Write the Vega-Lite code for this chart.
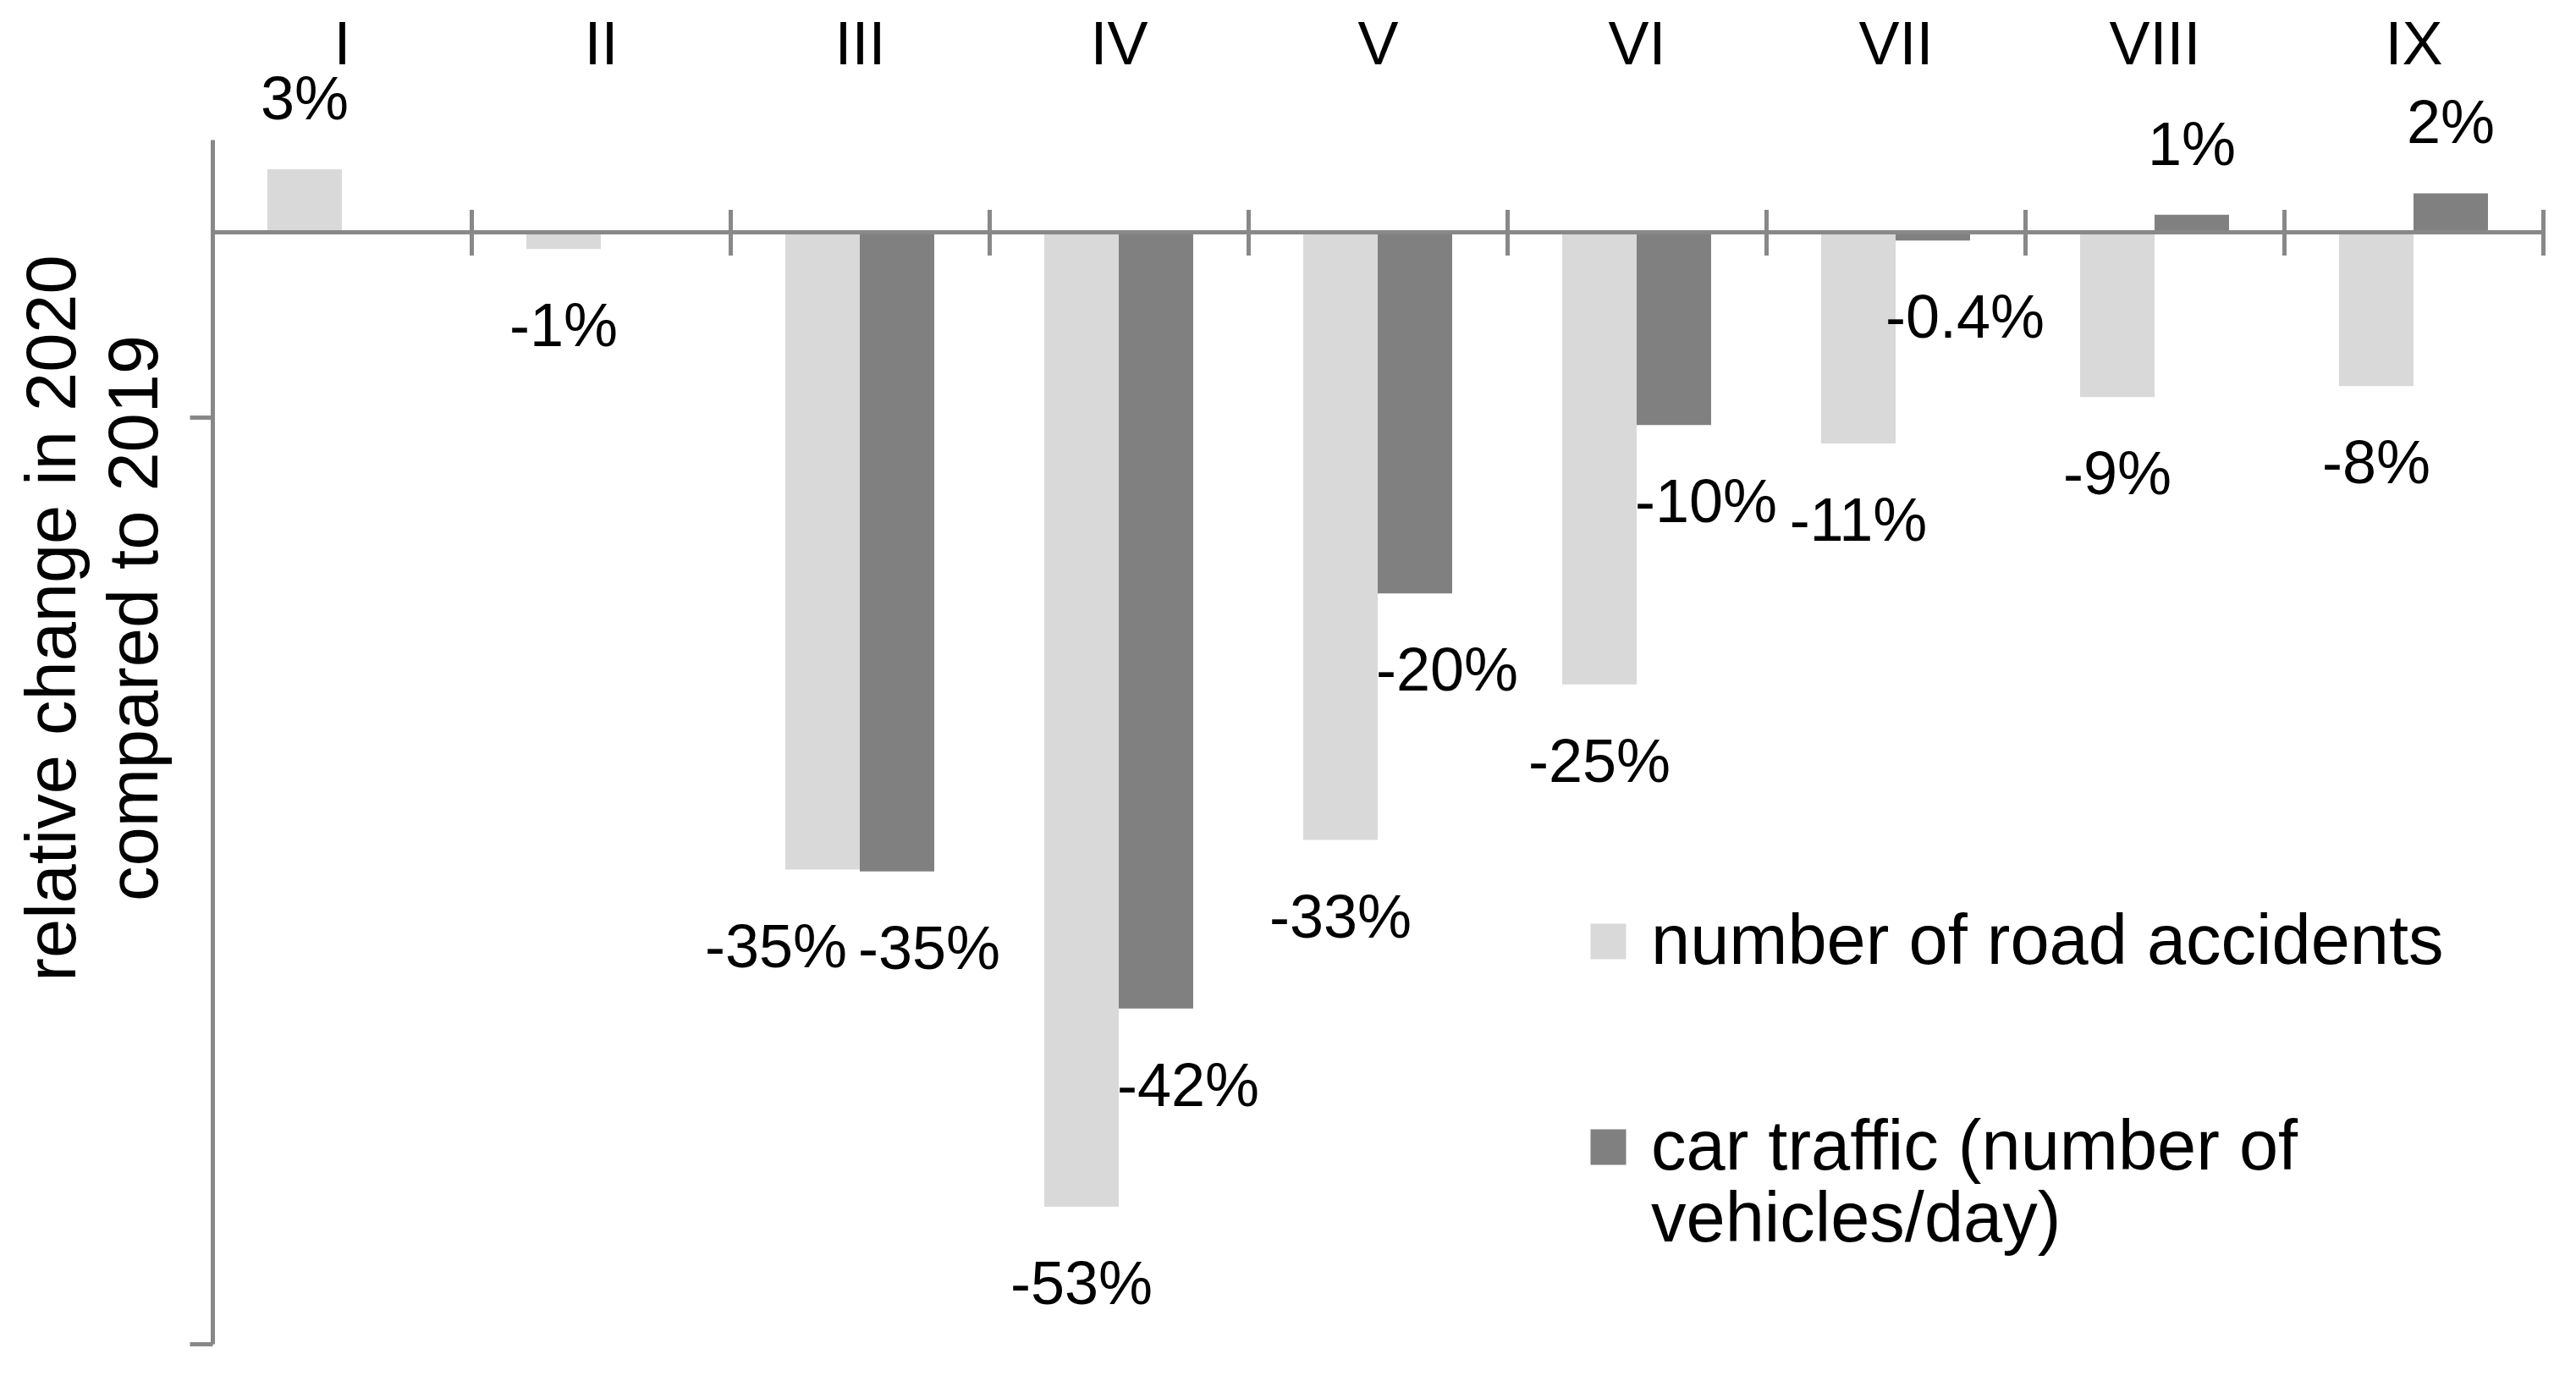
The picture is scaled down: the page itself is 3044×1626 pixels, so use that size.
{
  "$schema": "https://vega.github.io/schema/vega-lite/v6.json",
  "autosize": "none",
  "width": 2754,
  "height": 1423,
  "padding": {"left": 251, "top": 165, "right": 39, "bottom": 38},
  "background": "white",
  "config": {
    "font": "Liberation Sans",
    "view": {"stroke": null}
  },
  "data": {
    "values": [
      {"month": "I", "series": "number of road accidents", "value": 3.4, "label": "3%"},
      {"month": "II", "series": "number of road accidents", "value": -0.9, "label": "-1%"},
      {"month": "III", "series": "number of road accidents", "value": -34.4, "label": "-35%"},
      {"month": "III", "series": "car traffic (number of vehicles/day)", "value": -34.5, "label": "-35%"},
      {"month": "IV", "series": "number of road accidents", "value": -52.6, "label": "-53%"},
      {"month": "IV", "series": "car traffic (number of vehicles/day)", "value": -41.9, "label": "-42%"},
      {"month": "V", "series": "number of road accidents", "value": -32.8, "label": "-33%"},
      {"month": "V", "series": "car traffic (number of vehicles/day)", "value": -19.5, "label": "-20%"},
      {"month": "VI", "series": "number of road accidents", "value": -24.4, "label": "-25%"},
      {"month": "VI", "series": "car traffic (number of vehicles/day)", "value": -10.4, "label": "-10%"},
      {"month": "VII", "series": "number of road accidents", "value": -11.4, "label": "-11%"},
      {"month": "VII", "series": "car traffic (number of vehicles/day)", "value": -0.45, "label": "-0.4%"},
      {"month": "VIII", "series": "number of road accidents", "value": -8.9, "label": "-9%"},
      {"month": "VIII", "series": "car traffic (number of vehicles/day)", "value": 0.95, "label": "1%"},
      {"month": "IX", "series": "number of road accidents", "value": -8.3, "label": "-8%"},
      {"month": "IX", "series": "car traffic (number of vehicles/day)", "value": 2.1, "label": "2%"}
    ]
  },
  "encoding": {
    "x": {
      "field": "month",
      "type": "nominal",
      "sort": ["I", "II", "III", "IV", "V", "VI", "VII", "VIII", "IX"],
      "scale": {"paddingInner": 0, "paddingOuter": 0},
      "axis": {
        "orient": "top",
        "title": null,
        "domain": false,
        "offset": -136.46,
        "ticks": true,
        "tickBand": "extent",
        "tickSize": 54,
        "tickWidth": 5,
        "tickColor": "#888888",
        "labelAngle": 0,
        "labelFontSize": 72,
        "labelColor": "black",
        "labelBaseline": "alphabetic",
        "labelPadding": 172
      }
    },
    "xOffset": {
      "field": "series",
      "type": "nominal",
      "sort": ["number of road accidents", "car traffic (number of vehicles/day)"],
      "scale": {"paddingInner": 0, "paddingOuter": 0.739}
    },
    "y": {
      "field": "value",
      "type": "quantitative",
      "scale": {"domain": [-60, 5], "nice": false, "zero": false},
      "axis": {
        "values": [-10, -60],
        "labels": false,
        "grid": false,
        "domainColor": "#888888",
        "domainWidth": 5,
        "tickColor": "#888888",
        "tickWidth": 5,
        "tickSize": 27,
        "title": ["relative change in 2020", "compared to 2019"],
        "titleFontSize": 83,
        "titleFontWeight": "normal",
        "titleColor": "black",
        "titleAngle": -90,
        "titleAlign": "center",
        "titleBaseline": "alphabetic",
        "titleLineHeight": 97,
        "titleX": -163,
        "titleY": 565
      }
    }
  },
  "layer": [
    {
      "mark": {"type": "bar", "orient": "vertical"},
      "encoding": {
        "y2": {"datum": 0},
        "color": {
          "field": "series",
          "type": "nominal",
          "sort": ["number of road accidents", "car traffic (number of vehicles/day)"],
          "scale": {
            "domain": ["number of road accidents", "car traffic (number of vehicles/day)"],
            "range": ["#d9d9d9", "#808080"]
          },
          "legend": {
            "title": null,
            "orient": "none",
            "legendX": 1608,
            "legendY": 906,
            "padding": 0,
            "symbolType": "square",
            "symbolSize": 1764,
            "symbolStrokeWidth": 0,
            "symbolOpacity": 1,
            "labelFontSize": 83,
            "labelColor": "black",
            "labelOffset": 9,
            "labelLimit": 2000,
            "labelBaseline": "alphabetic",
            "labelLineHeight": 96,
            "rowPadding": 158,
            "labelExpr": "datum.value == 'car traffic (number of vehicles/day)' ? ['car traffic (number of', 'vehicles/day)'] : datum.label",
            "encode": {"labels": {"update": {"dy": {"value": 26}}}}
          }
        }
      }
    },
    {
      "mark": {"type": "rule", "color": "#888888", "strokeWidth": 5},
      "encoding": {
        "x": null,
        "xOffset": null,
        "y": {"datum": 0}
      }
    },
    {
      "mark": {
        "type": "text",
        "fontSize": 72,
        "color": "black",
        "baseline": "alphabetic",
        "align": "center",
        "dy": {"expr": "datum.value < 0 ? 115 : -59"},
        "dx": {"expr": "datum.value < 0 && datum.series != 'number of road accidents' ? 38 : (datum.month == 'III' ? -55 : 0)"}
      },
      "encoding": {
        "text": {"field": "label"}
      }
    }
  ]
}
